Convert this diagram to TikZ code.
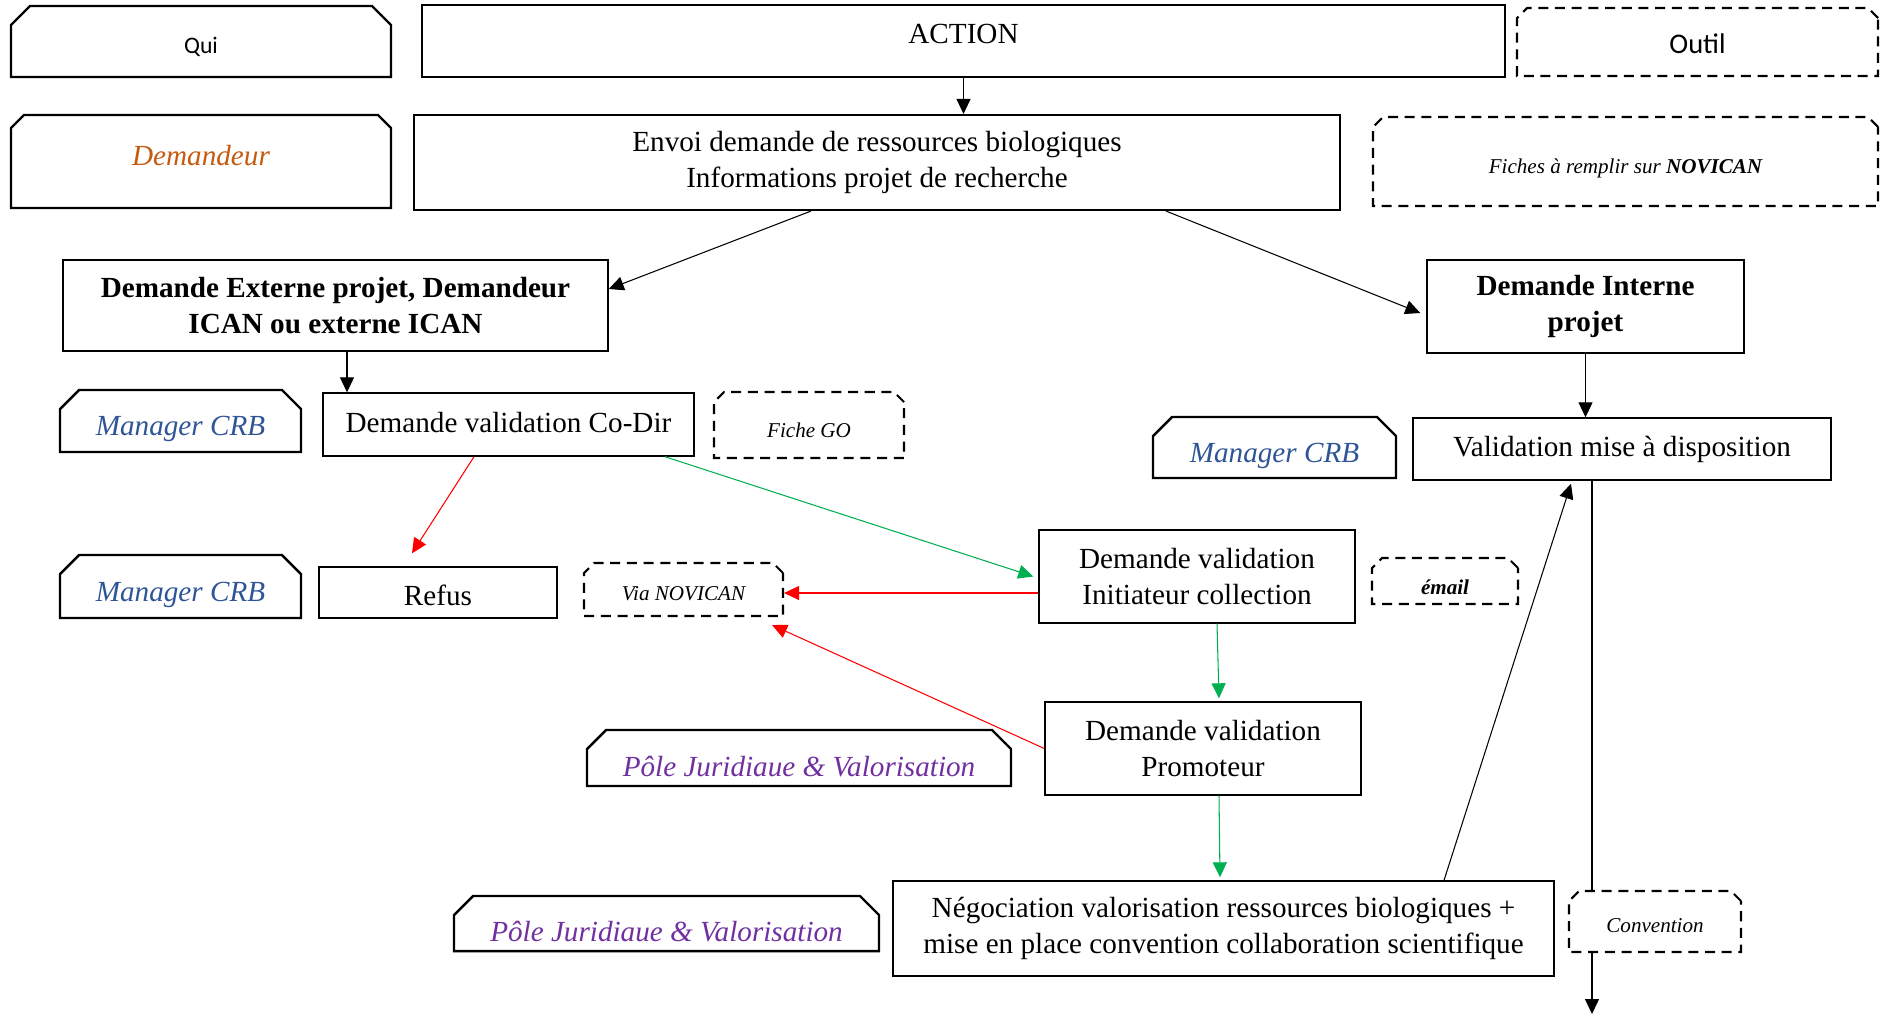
\documentclass[tikz,border=0pt]{standalone}
\usepackage{fontspec}
\setmainfont{Liberation Serif}
\newfontfamily\calibri{Carlito}
\usetikzlibrary{arrows.meta,shapes.misc}
\definecolor{crbblue}{HTML}{2F5597}
\definecolor{demorange}{HTML}{C55A11}
\definecolor{polepurple}{HTML}{7030A0}
\definecolor{okgreen}{HTML}{00B050}

\begin{document}
\begin{tikzpicture}[
    every node/.style={font=\fontsize{16.6}{20.5}\selectfont, align=center},
    act/.style={rectangle, draw, line width=0.8pt, inner sep=2pt},
    qui/.style={chamfered rectangle, chamfered rectangle corners={north west,north east},
                chamfered rectangle xsep=0.19cm, chamfered rectangle ysep=0.19cm,
                draw, line width=1.4pt, inner sep=0pt},
    outil/.style={chamfered rectangle, chamfered rectangle corners={north west,north east},
                  chamfered rectangle xsep=0.1cm, chamfered rectangle ysep=0.1cm,
                  draw, dash pattern=on 5.7pt off 3.8pt, line width=1.2pt, inner sep=0pt,
                  font=\fontsize{12}{14.5}\selectfont\itshape},
    crb/.style={qui, text=crbblue, font=\fontsize{16.6}{20.5}\selectfont\itshape},
    pole/.style={qui, text=polepurple, font=\fontsize{16.6}{20.5}\selectfont\itshape},
    bl/.style={text height=#1, text depth=0pt},
    e/.style={-{Triangle[length=3mm, width=2.8mm]}, line width=0.6pt},
  ]
  \useasboundingbox (0,0) rectangle (37.70,-20.28);
  \node[qui, bl=0.46cm, minimum width=7.6cm, minimum height=1.42cm, font=\calibri\fontsize{13.5}{16}\selectfont] (qui) at (4.02,-0.83) {Qui};
  \node[act, bl=0.08cm, line width=1.2pt, minimum width=21.66cm, minimum height=1.44cm] (action) at (19.27,-0.82) {ACTION};
  \node[outil, bl=0.44cm, minimum width=7.22cm, minimum height=1.36cm, font=\calibri\fontsize{16.2}{19}\selectfont] (outil) at (33.95,-0.84) {Outil};
  \node[qui, bl=0.14cm, minimum width=7.6cm, minimum height=1.86cm, text=demorange, font=\fontsize{16.6}{20.5}\selectfont\itshape] (demandeur) at (4.02,-3.23) {Demandeur};
  \node[act, line width=1.2pt, minimum width=18.52cm, minimum height=1.9cm] (envoi) at (17.54,-3.25) {Envoi demande de ressources biologiques\\Informations projet de recherche};
  \node[outil, bl=0.46cm, minimum width=10.1cm, minimum height=1.78cm] (fiches) at (32.51,-3.23) {Fiches à remplir sur \textbf{NOVICAN}};
  \node[act, minimum width=10.9cm, minimum height=1.82cm, font=\fontsize{16.6}{20.5}\selectfont\bfseries] (externe) at (6.71,-6.11) {Demande Externe projet, Demandeur\\ICAN ou externe ICAN};
  \node[act, minimum width=6.34cm, minimum height=1.86cm, font=\fontsize{16.6}{20.5}\selectfont\bfseries] (interne) at (31.71,-6.13) {Demande Interne\\projet};
  \node[crb, bl=0.56cm, minimum width=4.82cm, minimum height=1.24cm] (crb1) at (3.61,-8.42) {Manager CRB};
  \node[act, bl=0.3cm, minimum width=7.42cm, minimum height=1.26cm] (codir) at (10.17,-8.49) {Demande validation Co-Dir};
  \node[outil, bl=0.5cm, minimum width=3.8cm, minimum height=1.32cm] (fichego) at (16.18,-8.50) {Fiche GO};
  \node[crb, bl=0.6cm, minimum width=4.86cm, minimum height=1.22cm] (crb3) at (25.49,-8.95) {Manager CRB};
  \node[act, minimum width=8.36cm, minimum height=1.24cm] (valid) at (32.44,-8.98) {Validation mise à disposition};
  \node[crb, bl=0.58cm, minimum width=4.82cm, minimum height=1.26cm] (crb2) at (3.61,-11.73) {Manager CRB};
  \node[act, bl=0.5cm, minimum width=4.76cm, minimum height=1.02cm] (refus) at (8.76,-11.85) {Refus};
  \node[outil, bl=0.44cm, minimum width=3.98cm, minimum height=1.06cm] (via) at (13.67,-11.79) {Via NOVICAN};
  \node[act, minimum width=6.32cm, minimum height=1.86cm] (init) at (23.94,-11.53) {Demande validation\\Initiateur collection};
  \node[outil, bl=0.52cm, minimum width=2.92cm, minimum height=0.92cm, font=\fontsize{12}{14.5}\selectfont\itshape\bfseries] (email) at (28.90,-11.62) {émail};
  \node[pole, bl=0.72cm, minimum width=8.48cm, minimum height=1.12cm] (pole1) at (15.98,-15.16) {Pôle Juridiaue \& Valorisation};
  \node[act, minimum width=6.32cm, minimum height=1.86cm] (promo) at (24.06,-14.97) {Demande validation\\Promoteur};
  \node[pole, bl=0.7cm, minimum width=8.5cm, minimum height=1.1cm] (pole2) at (13.33,-18.47) {Pôle Juridiaue \& Valorisation};
  \node[act, minimum width=13.22cm, minimum height=1.9cm] (nego) at (24.47,-18.57) {Négociation valorisation ressources biologiques +\\mise en place convention collaboration scientifique};
  \node[outil, bl=0.44cm, minimum width=3.44cm, minimum height=1.22cm] (conv) at (33.10,-18.43) {Convention};
  \coordinate (fin) at (31.84,-20.28);
  \draw[e] (action.south) -- (action.south |- envoi.north);
  \draw[e] ([xshift=-1.32cm]envoi.south) -- ([yshift=0.33cm]externe.east);
  \draw[e] ([xshift=5.78cm]envoi.south) -- ([shift={(-0.12cm,-0.13cm)}]interne.west);
  \draw[e] ([xshift=0.23cm]externe.south) -- ([xshift=0.23cm]externe.south |- codir.north);
  \draw[e] (interne.south) -- (interne.south |- valid.north);
  \draw[e, red] ([xshift=-0.69cm]codir.south) -- ([shift={(-0.52cm,0.26cm)}]refus.north);
  \draw[e, okgreen] ([xshift=3.13cm]codir.south) -- ([xshift=-0.1cm]init.west);
  \draw[e, red] ([yshift=-0.33cm]init.west) -- ([yshift=-0.33cm]init.west -| via.east);
  \draw[e, red] (promo.west) -- ([shift={(-0.24cm,-0.16cm)}]via.south east);
  \draw[e, okgreen] ([xshift=0.4cm]init.south) -- ([shift={(0.32cm,0.06cm)}]promo.north);
  \draw[e, okgreen] ([xshift=0.32cm]promo.south) -- ([shift={(-0.07cm,0.06cm)}]nego.north);
  \draw[e] ([xshift=4.41cm]nego.north) -- ([shift={(-1.02cm,-0.06cm)}]valid.south);
  \draw[line width=0.6pt] (valid.south -| fin) -- (conv.north -| fin);
  \draw[e] (conv.south -| fin) -- (fin);
\end{tikzpicture}
\end{document}
